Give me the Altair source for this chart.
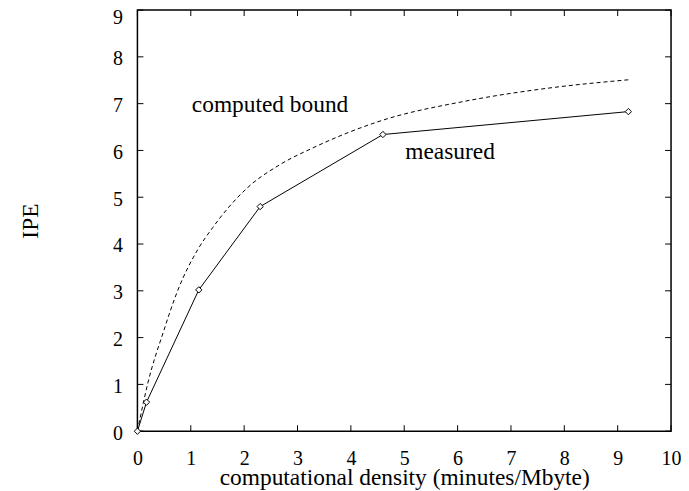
import altair as alt
import pandas as pd

# measured data
meas_x = [0.0, 0.17, 1.15, 2.3, 4.6, 9.2]
meas_y = [0.0, 0.62, 3.02, 4.8, 6.34, 6.83]

# computed bound
bound_x = [0.0, 0.2, 0.48, 0.76, 1.13, 1.41, 2.04, 2.66, 3.28, 4.58, 6.13, 7.69, 9.2]
bound_y = [0.0, 1.05, 2.1, 3.02, 3.88, 4.35, 5.18, 5.69, 6.05, 6.64, 7.05, 7.33, 7.51]

x_ticks = [0, 1, 2, 3, 4, 5, 6, 7, 8, 9, 10]
y_ticks = [0, 1, 2, 3, 4, 5, 6, 7, 8, 9]

labels = ["computed bound", "measured"]
label_x = [1.02, 5.02]
label_y = [6.96, 5.96]

FONT = "Liberation Serif"
TXT = 23.5
W, H = 536, 423
TL = 6

meas = pd.DataFrame({"x": meas_x, "y": meas_y})
bound = pd.DataFrame({"x": bound_x, "y": bound_y})
xt = pd.DataFrame({"v": x_ticks})
yt = pd.DataFrame({"v": y_ticks})
lab = pd.DataFrame({"t": labels, "x": label_x, "y": label_y})

xs = alt.Scale(domain=[0, 10], nice=False, zero=False)
ys = alt.Scale(domain=[0, 9], nice=False, zero=False)

xax = alt.Axis(values=x_ticks, ticks=False, domain=False, grid=False,
               labelFont=FONT, labelFontSize=20, labelColor="black",
               labelFlush=False, labelPadding=17,
               title="computational density (minutes/Mbyte)",
               titleFont=FONT, titleFontSize=TXT, titleFontWeight="normal",
               titleColor="black", titleY=47, titleBaseline="middle")
yax = alt.Axis(values=y_ticks, ticks=False, domain=False, grid=False,
               labelFont=FONT, labelFontSize=20, labelColor="black",
               labelFlush=False, labelPadding=15,
               labelOffset=alt.condition("datum.value == 9", alt.value(7), alt.value(2)),
               title="IPE", titleFont=FONT, titleFontSize=TXT,
               titleFontWeight="normal", titleColor="black",
               titleX=-107, titleBaseline="middle", titleAlign="center")

bound_line = alt.Chart(bound).mark_line(
    color="black", strokeWidth=1, strokeDash=[4, 3], interpolate="monotone"
).encode(x=alt.X("x:Q", scale=xs, axis=xax), y=alt.Y("y:Q", scale=ys, axis=yax))

meas_line = alt.Chart(meas).mark_line(color="black", strokeWidth=1).encode(
    x=alt.X("x:Q", scale=xs), y=alt.Y("y:Q", scale=ys))

meas_pts = alt.Chart(meas).mark_point(
    shape="diamond", size=40, filled=True, fill="white", stroke="black",
    strokeWidth=1, opacity=1
).encode(x=alt.X("x:Q", scale=xs), y=alt.Y("y:Q", scale=ys))

tick_b = alt.Chart(xt).mark_rule(color="black", strokeWidth=1).encode(
    x=alt.X("v:Q", scale=xs), y=alt.value(H), y2=alt.value(H - TL))
tick_t = alt.Chart(xt).mark_rule(color="black", strokeWidth=1).encode(
    x=alt.X("v:Q", scale=xs), y=alt.value(0), y2=alt.value(TL))
tick_l = alt.Chart(yt).mark_rule(color="black", strokeWidth=1).encode(
    y=alt.Y("v:Q", scale=ys), x=alt.value(0), x2=alt.value(TL))
tick_r = alt.Chart(yt).mark_rule(color="black", strokeWidth=1).encode(
    y=alt.Y("v:Q", scale=ys), x=alt.value(W), x2=alt.value(W - TL))

texts = alt.Chart(lab).mark_text(
    font=FONT, fontSize=TXT, color="black", align="left", baseline="middle"
).encode(x=alt.X("x:Q", scale=xs), y=alt.Y("y:Q", scale=ys), text="t:N")

chart = alt.layer(
    tick_b, tick_t, tick_l, tick_r, bound_line, meas_line, meas_pts, texts
).properties(
    width=W, height=H,
    autosize=alt.AutoSizeParams(type="none"),
    padding={"left": 130, "top": 1, "right": 10, "bottom": 58},
    background="white",
).configure_view(stroke="black", strokeWidth=1.5)

chart.save("out.html", embed_options={"renderer": "svg", "actions": False})
